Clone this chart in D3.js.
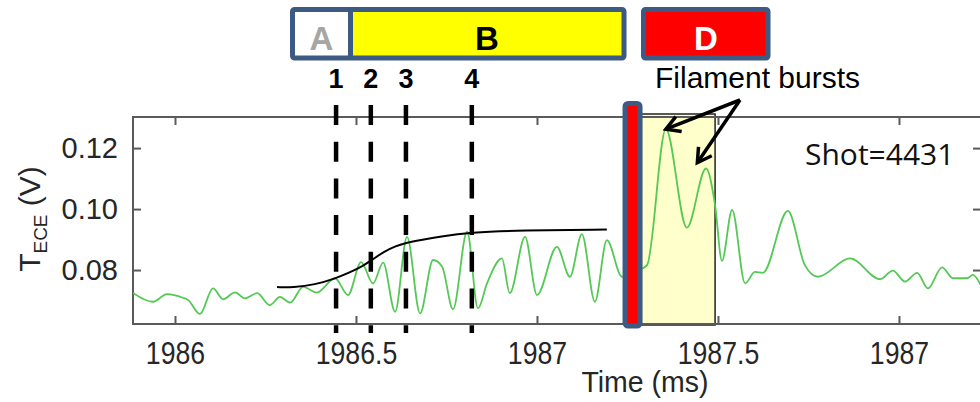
<!DOCTYPE html>
<html>
<head>
<meta charset="utf-8">
<script src="https://cdn.jsdelivr.net/npm/d3@7"></script>
<style>
  html, body { margin: 0; padding: 0; background: #fff; }
  svg { display: block; }
</style>
</head>
<body>
<svg id="chart" width="980" height="402"></svg>
<script>
// ---- data ----
const time = [1985.884, 1985.939, 1985.978, 1986.022, 1986.036, 1986.069, 1986.105, 1986.133, 1986.166, 1986.193,
  1986.227, 1986.262, 1986.290, 1986.318, 1986.354, 1986.392, 1986.442, 1986.478, 1986.514, 1986.547,
  1986.575, 1986.608, 1986.641, 1986.677, 1986.713, 1986.738, 1986.768, 1986.807, 1986.837, 1986.862,
  1986.903, 1986.925, 1986.967, 1987.000, 1987.055, 1987.091, 1987.124, 1987.160, 1987.193, 1987.235,
  1987.268, 1987.304, 1987.356, 1987.414, 1987.467, 1987.492, 1987.511, 1987.539, 1987.575, 1987.602,
  1987.624, 1987.693, 1987.740, 1987.776, 1987.865, 1987.948, 1987.983, 1988.017, 1988.050, 1988.080,
  1988.119, 1988.149, 1988.188, 1988.204, 1988.226];
const tece = [0.0725, 0.0696, 0.0721, 0.0709, 0.0702, 0.0656, 0.0740, 0.0704, 0.0727, 0.0707,
  0.0724, 0.0685, 0.0712, 0.0693, 0.0745, 0.0726, 0.0773, 0.0718, 0.0826, 0.0756,
  0.0824, 0.0663, 0.0909, 0.0658, 0.0833, 0.0811, 0.0671, 0.0926, 0.0674, 0.0756,
  0.0838, 0.0724, 0.0909, 0.0718, 0.0876, 0.0778, 0.0918, 0.0696, 0.0898, 0.0778,
  0.0793, 0.0816, 0.1262, 0.0939, 0.1133, 0.1013, 0.0830, 0.0997, 0.0756, 0.0794,
  0.0791, 0.0994, 0.0816, 0.0778, 0.0838, 0.0770, 0.0798, 0.0762, 0.0791, 0.0740,
  0.0809, 0.0773, 0.0773, 0.0784, 0.0751];
const trendTime = [1986.282, 1986.326, 1986.387, 1986.442, 1986.483, 1986.519, 1986.544, 1986.575,
  1986.610, 1986.641, 1986.677, 1986.732, 1986.815, 1986.953, 1987.193];
const trendValue = [0.0744, 0.0743, 0.0752, 0.0772, 0.0792, 0.0813, 0.0833, 0.0859,
  0.0879, 0.0890, 0.0898, 0.0910, 0.0923, 0.0930, 0.0933];
const markerTimes = [1986.445, 1986.541, 1986.638, 1986.820];
const markerLabels = ["1", "2", "3", "4"];
const redBarTime = [1987.264];
const burstWindow = [1987.285, 1987.492];
const xTicks = [1986, 1986.5, 1987, 1987.5, 1988];
const xTickLabels = ["1986", "1986.5", "1987", "1987.5", "1987"];
const yTicks = [0.08, 0.10, 0.12];
const yTickLabels = ["0.08", "0.10", "0.12"];
const phaseLabels = ["A", "B", "D"];
const burstTipTimes = [1987.356, 1987.443];
const burstTipValues = [0.1262, 0.1152];

// ---- layout ----
const L = 133, R = 981, T = 117, B = 324;
const svg = d3.select("#chart");
const x = d3.scaleLinear().domain([1985.884, 1988.2266]).range([L, R]);
const y = d3.scaleLinear().domain([0.0623, 0.1302]).range([B, T]);

const axisColor = "#5a5a5a";
const textColor = "#262626";
const FONT = "'Liberation Sans', Arial, sans-serif";

svg.append("defs").append("clipPath").attr("id", "plotclip")
  .append("rect").attr("x", L).attr("y", T).attr("width", R - L).attr("height", B - T);

// yellow burst window
svg.append("rect")
  .attr("x", x(burstWindow[0])).attr("y", T - 3)
  .attr("width", x(burstWindow[1]) - x(burstWindow[0])).attr("height", B - T + 4)
  .attr("fill", "#ffffcc").attr("stroke", "#222").attr("stroke-width", 1.5);

// frame
svg.append("rect").attr("x", L).attr("y", T).attr("width", R - L).attr("height", B - T)
  .attr("fill", "none").attr("stroke", axisColor).attr("stroke-width", 2);

// axes
function styleAxis(g) {
  g.select(".domain").remove();
  g.selectAll(".tick line").attr("stroke", axisColor).attr("stroke-width", 2);
  g.selectAll(".tick text").attr("fill", textColor).attr("font-family", FONT);
}
svg.append("g").attr("transform", `translate(0,${B})`)
  .call(d3.axisBottom(x).tickValues(xTicks).tickSize(-8).tickPadding(18)
    .tickFormat((d, i) => xTickLabels[i]))
  .call(styleAxis)
  .selectAll(".tick text").attr("font-size", 31).attr("transform", "scale(0.86,1)");
svg.append("g").attr("transform", `translate(0,${T})`)
  .call(d3.axisTop(x).tickValues(xTicks).tickSize(-8).tickFormat(""))
  .call(styleAxis);
svg.append("g").attr("transform", `translate(${L},0)`)
  .call(d3.axisLeft(y).tickValues(yTicks).tickSize(-8).tickPadding(15)
    .tickFormat((d, i) => yTickLabels[i]))
  .call(styleAxis)
  .selectAll(".tick text").attr("font-size", 29);
svg.append("g").attr("transform", `translate(${R},0)`)
  .call(d3.axisRight(y).tickValues(yTicks).tickSize(-8).tickFormat(""))
  .call(styleAxis);

// green signal
const pts = time.map((t, i) => [t, tece[i]]);
svg.append("path").datum(pts)
  .attr("clip-path", "url(#plotclip)")
  .attr("fill", "none").attr("stroke", "#55c955").attr("stroke-width", 1.8)
  .attr("stroke-linejoin", "round")
  .attr("d", d3.line().x(d => x(d[0])).y(d => y(d[1])).curve(d3.curveMonotoneX));

// black trend
svg.append("path").datum(trendTime.map((t, i) => [t, trendValue[i]]))
  .attr("fill", "none").attr("stroke", "#000").attr("stroke-width", 2)
  .attr("d", d3.line().x(d => x(d[0])).y(d => y(d[1])).curve(d3.curveBasis));

// dashed markers
svg.selectAll("line.marker").data(markerTimes).join("line")
  .attr("class", "marker")
  .attr("x1", d => x(d)).attr("x2", d => x(d))
  .attr("y1", 98).attr("y2", 333)
  .attr("stroke", "#000").attr("stroke-width", 4.5).attr("stroke-dasharray", "20,16.7")
  .attr("stroke-dashoffset", -7);
svg.selectAll("text.mlabel").data(markerTimes).join("text")
  .attr("class", "mlabel")
  .attr("x", d => x(d)).attr("y", 88)
  .attr("text-anchor", "middle").attr("font-family", FONT)
  .attr("font-weight", "bold").attr("font-size", 27).attr("fill", "#000")
  .text((d, i) => markerLabels[i]);

// red bar
svg.append("rect")
  .attr("x", x(redBarTime[0]) - 7.5).attr("y", 103.5)
  .attr("width", 15).attr("height", 222.5).attr("rx", 3)
  .attr("fill", "#ff0000").attr("stroke", "#3d5a84").attr("stroke-width", 5);

// phase boxes
const boxBlue = "#3d5a84";
svg.append("rect").attr("x", 292.5).attr("y", 9.5).attr("width", 57.5).attr("height", 48.5)
  .attr("fill", "#fff");
svg.append("rect").attr("x", 350).attr("y", 9.5).attr("width", 274).attr("height", 48.5)
  .attr("fill", "#ffff00");
svg.append("rect").attr("x", 292.5).attr("y", 9.5).attr("width", 331.5).attr("height", 48.5)
  .attr("rx", 2).attr("fill", "none").attr("stroke", boxBlue).attr("stroke-width", 5);
svg.append("line").attr("x1", 350.5).attr("x2", 350.5).attr("y1", 9.5).attr("y2", 58)
  .attr("stroke", boxBlue).attr("stroke-width", 5);
svg.append("rect").attr("x", 643.5).attr("y", 9.5).attr("width", 124.5).attr("height", 48.5)
  .attr("rx", 2).attr("fill", "#ff0000").attr("stroke", boxBlue).attr("stroke-width", 5);
const phaseX = [321.5, 487, 706];
const phaseColor = ["#a6a6a6", "#000", "#fff"];
svg.selectAll("text.phase").data(phaseLabels).join("text")
  .attr("class", "phase")
  .attr("x", (d, i) => phaseX[i]).attr("y", 50)
  .attr("text-anchor", "middle").attr("font-family", FONT).attr("font-weight", "bold")
  .attr("font-size", 33).attr("fill", (d, i) => phaseColor[i]).text(d => d);

// Filament bursts annotation
svg.append("text").attr("x", 655).attr("y", 88).attr("font-family", FONT)
  .attr("font-size", 30).attr("fill", "#000").text("Filament bursts");
const apex = [740, 100];
burstTipTimes.forEach((t, i) => {
  const tx = x(t), ty = y(burstTipValues[i]);
  svg.append("line").attr("x1", apex[0]).attr("y1", apex[1]).attr("x2", tx).attr("y2", ty)
    .attr("stroke", "#000").attr("stroke-width", 3.5);
  const ang = Math.atan2(apex[1] - ty, apex[0] - tx);
  const len = 16, spread = Math.PI / 6;
  const p1 = [tx + len * Math.cos(ang + spread), ty + len * Math.sin(ang + spread)];
  const p2 = [tx + len * Math.cos(ang - spread), ty + len * Math.sin(ang - spread)];
  svg.append("path").attr("d", `M${p1[0]},${p1[1]}L${tx},${ty}L${p2[0]},${p2[1]}`)
    .attr("fill", "none").attr("stroke", "#000").attr("stroke-width", 3.5)
    .attr("stroke-linejoin", "miter");
});

// Shot label
svg.append("text").attr("x", 805).attr("y", 165)
  .attr("font-family", "'Open Sans', 'Noto Sans', sans-serif")
  .attr("font-size", 30).attr("fill", "#111").text("Shot=4431");

// axis titles
svg.append("text").attr("x", 645).attr("y", 392).attr("text-anchor", "middle")
  .attr("font-family", FONT).attr("font-size", 30).attr("fill", textColor)
  .attr("transform", "translate(645,0) scale(0.95,1) translate(-645,0)").text("Time (ms)");
const yt = svg.append("text").attr("transform", "translate(40,219) rotate(-90)")
  .attr("text-anchor", "middle").attr("font-family", FONT).attr("font-size", 30).attr("fill", textColor);
yt.append("tspan").text("T");
yt.append("tspan").attr("font-size", 19).attr("dy", 7).text("ECE");
yt.append("tspan").attr("dy", -7).text(" (V)");
</script>
</body>
</html>
